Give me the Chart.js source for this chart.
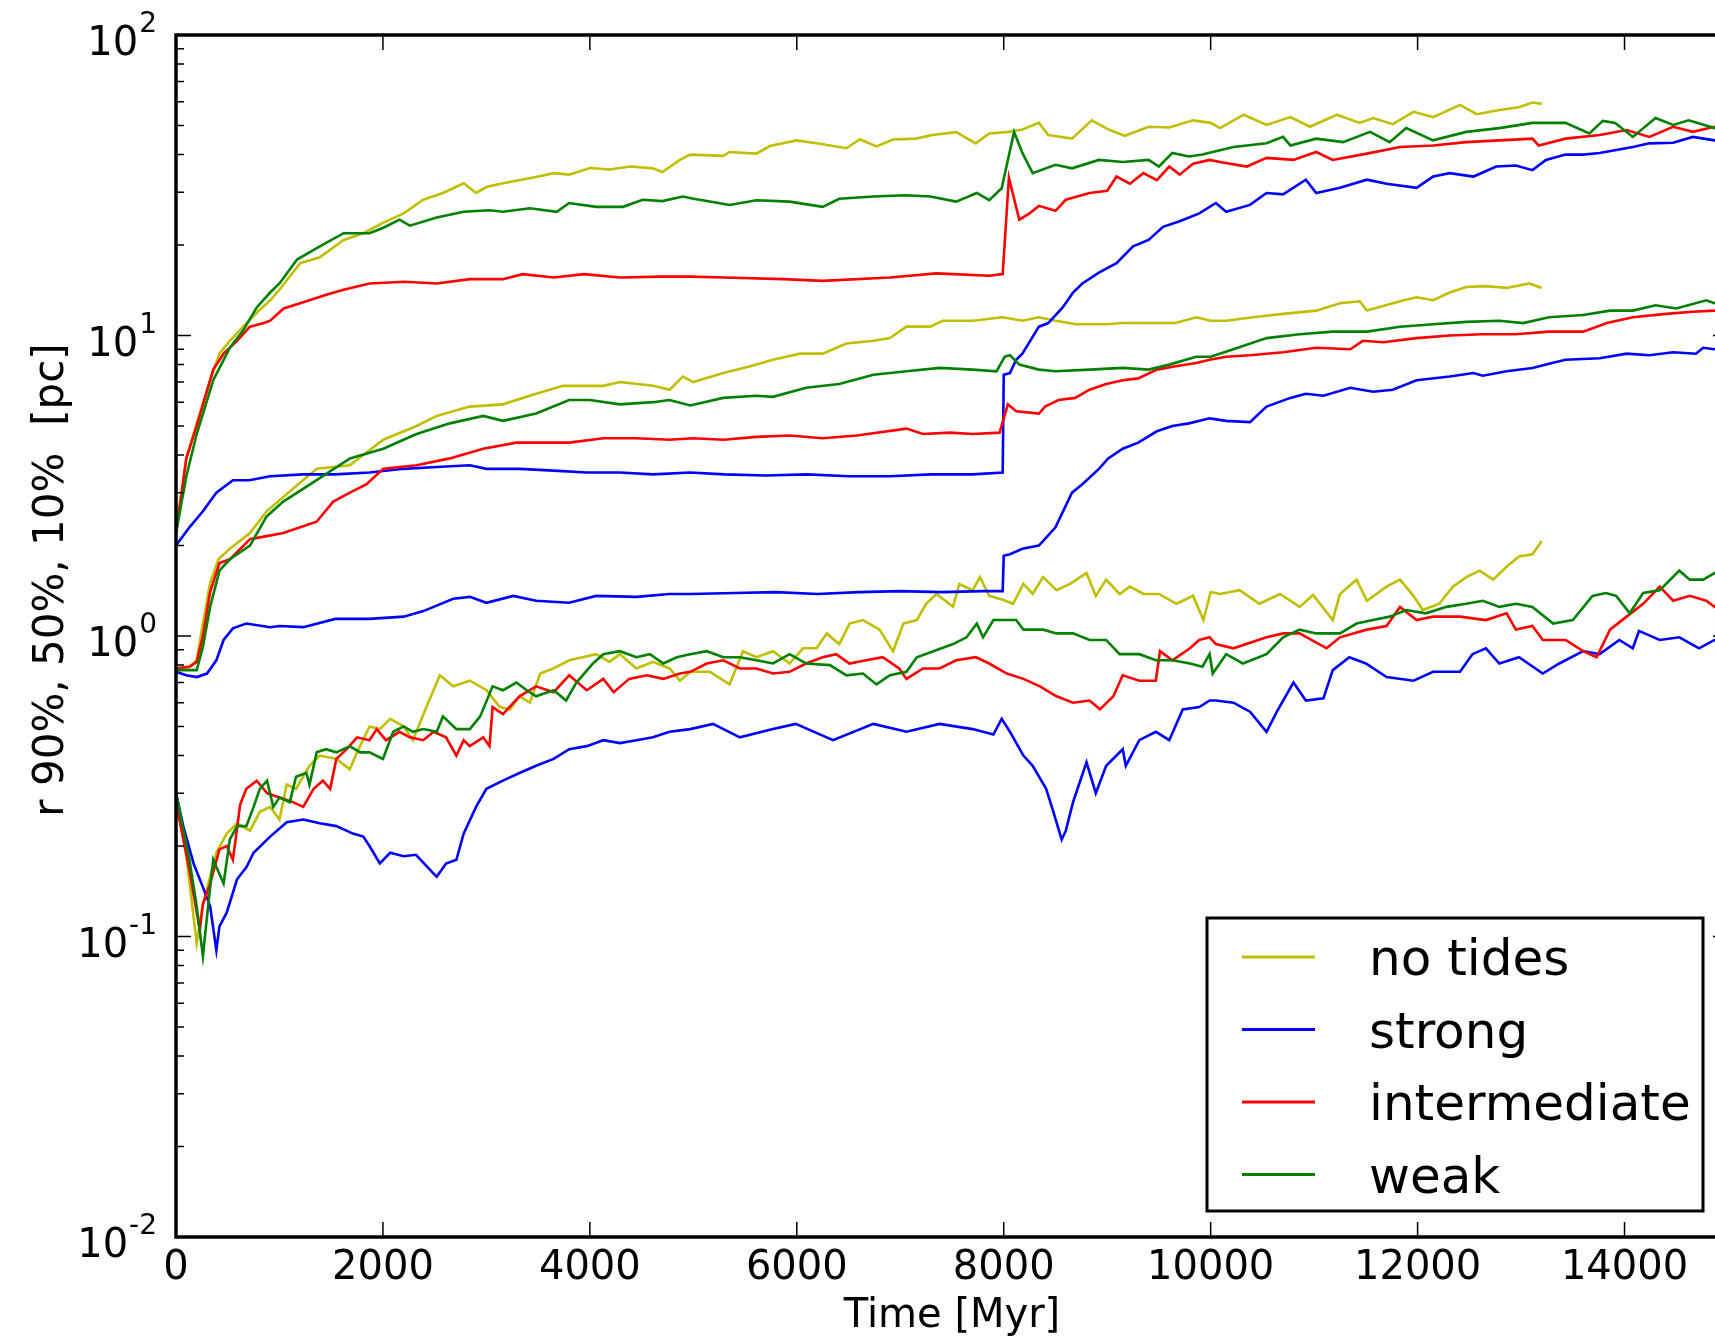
<!DOCTYPE html>
<html>
<head>
<meta charset="utf-8">
<script src="https://cdn.jsdelivr.net/npm/chart.js@4.4.1/dist/chart.umd.min.js"></script>
<style>
html, body { margin:0; padding:0; background:#fff; overflow:hidden; }
#wrap { position:relative; width:1760px; height:1341px; }
</style>
</head>
<body>
<div id="wrap"><canvas id="c" width="1760" height="1341"></canvas></div>
<script>
// [time Myr, radius pc]
const noTides90 = [[0,2.2],[100,3.9],[200,5.1],[330,7.1],[420,8.7],[520,9.6],[650,10.7],[780,11.9],[910,13.1],[1000,14.2],[1200,17.4],[1390,18.2],[1620,20.8],[1810,21.9],[2000,23.7],[2200,25.5],[2390,28.3],[2580,29.8],[2780,32.1],[2900,29.8],[3000,31.2],[3160,32.1],[3480,33.7],[3650,34.7],[3800,34.3],[4000,36.1],[4190,35.7],[4390,36.5],[4610,36],[4700,35],[4870,38.4],[4970,40],[5290,39.6],[5350,40.8],[5610,40.3],[5740,42.7],[5995,44.6],[6190,43.6],[6480,42],[6610,45],[6770,42.6],[6930,44.9],[7150,45.2],[7310,46.5],[7540,47.5],[7730,43.6],[7860,47],[8050,47.6],[8180,48.5],[8340,51],[8430,46.5],[8660,45.2],[8850,52],[9010,48.5],[9170,46.2],[9400,49.5],[9600,49.2],[9830,52],[10000,51],[10090,49],[10320,54.3],[10540,50.2],[10770,53.3],[10960,49.5],[11220,54.3],[11440,51],[11570,52.9],[11760,50.5],[11960,55.5],[12150,53.3],[12410,58.5],[12570,54.5],[12790,56.3],[12980,57.5],[13110,59.6],[13200,59]]
const noTides50 = [[0,0.78],[130,0.79],[200,0.83],[260,1.1],[330,1.5],[410,1.8],[520,1.95],[715,2.2],[876,2.6],[1037,2.9],[1359,3.6],[1681,3.7],[2003,4.5],[2325,5.0],[2520,5.4],[2840,5.8],[3160,5.9],[3480,6.4],[3740,6.8],[4130,6.8],[4290,7.0],[4610,6.8],[4770,6.6],[4900,7.3],[5000,7.0],[5290,7.5],[5550,7.9],[5770,8.3],[6030,8.7],[6250,8.7],[6480,9.4],[6740,9.6],[6900,9.8],[7060,10.7],[7290,10.7],[7410,11.2],[7700,11.2],[7990,11.5],[8180,11.2],[8340,11.5],[8500,11.2],[8700,10.9],[8990,10.9],[9150,11],[9400,11],[9660,11],[9860,11.5],[10000,11.2],[10150,11.2],[10410,11.5],[10700,11.8],[11020,12.1],[11250,12.8],[11440,13],[11510,12.1],[11830,13],[11990,13.4],[12150,13.1],[12310,13.9],[12470,14.5],[12660,14.6],[12860,14.4],[13080,14.9],[13200,14.4]]
const noTides10 = [[0,0.29],[100,0.185],[200,0.095],[260,0.128],[330,0.158],[390,0.19],[490,0.22],[590,0.238],[715,0.225],[810,0.26],[910,0.27],[1000,0.245],[1070,0.32],[1160,0.31],[1290,0.37],[1390,0.40],[1550,0.39],[1680,0.36],[1750,0.41],[1870,0.5],[1970,0.49],[2070,0.53],[2200,0.5],[2290,0.45],[2420,0.58],[2550,0.74],[2680,0.68],[2840,0.71],[3000,0.66],[3130,0.58],[3230,0.57],[3320,0.63],[3420,0.60],[3520,0.75],[3650,0.78],[3800,0.83],[3930,0.85],[4060,0.87],[4190,0.82],[4290,0.87],[4450,0.78],[4610,0.82],[4770,0.78],[4870,0.71],[4970,0.76],[5160,0.76],[5350,0.69],[5480,0.89],[5610,0.85],[5770,0.89],[5930,0.81],[6060,0.91],[6190,0.91],[6290,1.02],[6410,0.94],[6510,1.1],[6640,1.13],[6800,1.05],[6930,0.89],[7030,1.1],[7160,1.13],[7250,1.28],[7350,1.38],[7510,1.25],[7570,1.49],[7700,1.42],[7770,1.57],[7860,1.36],[7990,1.32],[8090,1.28],[8190,1.49],[8280,1.38],[8380,1.57],[8510,1.42],[8640,1.49],[8800,1.62],[8890,1.36],[8990,1.54],[9120,1.38],[9220,1.46],[9350,1.38],[9500,1.38],[9670,1.28],[9830,1.36],[9930,1.13],[10000,1.40],[10090,1.38],[10280,1.42],[10470,1.28],[10670,1.38],[10860,1.25],[10990,1.37],[11180,1.13],[11250,1.38],[11410,1.54],[11510,1.31],[11700,1.46],[11830,1.54],[11960,1.36],[12050,1.22],[12210,1.28],[12340,1.46],[12470,1.57],[12600,1.65],[12730,1.54],[12860,1.70],[12980,1.84],[13110,1.87],[13200,2.07]]

const strong90 = [[0,2.0],[130,2.3],[260,2.6],[390,3.0],[550,3.3],[710,3.3],[910,3.4],[1230,3.45],[1540,3.45],[1870,3.5],[2200,3.6],[2520,3.65],[2840,3.7],[3000,3.6],[3320,3.6],[3650,3.55],[3970,3.5],[4290,3.5],[4610,3.45],[4970,3.5],[5300,3.45],[5700,3.42],[6100,3.45],[6500,3.4],[6900,3.4],[7300,3.45],[7700,3.45],[7990,3.5],[8000,7.4],[8060,7.5],[8120,8.3],[8180,8.7],[8340,10.7],[8430,11],[8570,12.4],[8670,13.9],[8760,14.9],[8920,16.2],[9090,17.4],[9250,19.8],[9400,20.8],[9540,23],[9700,24],[9890,25.5],[10050,27.6],[10150,25.8],[10380,27.2],[10540,29.8],[10700,29.5],[10920,33],[11020,29.8],[11250,31],[11510,33],[11700,32],[11990,31],[12150,33.8],[12310,34.7],[12540,33.8],[12760,36.5],[12950,36.8],[13110,35.5],[13240,38.4],[13430,40],[13600,40],[13760,40.5],[13920,41.4],[14080,42.4],[14240,43.6],[14470,43.8],[14660,45.8],[14870,44.6],[15000,45]]
const strong50 = [[0,0.76],[100,0.74],[200,0.73],[300,0.75],[390,0.83],[460,0.97],[550,1.06],[680,1.1],[910,1.07],[1000,1.08],[1230,1.07],[1540,1.14],[1870,1.14],[2200,1.16],[2390,1.21],[2680,1.33],[2840,1.35],[3000,1.29],[3260,1.36],[3480,1.31],[3800,1.29],[4060,1.36],[4450,1.35],[4770,1.38],[4970,1.38],[5400,1.39],[5800,1.4],[6200,1.38],[6600,1.4],[7000,1.41],[7400,1.4],[7800,1.41],[7990,1.41],[8000,1.85],[8060,1.87],[8180,1.95],[8340,2.0],[8500,2.3],[8660,3.0],[8760,3.2],[8920,3.6],[9010,3.9],[9150,4.2],[9300,4.4],[9480,4.8],[9630,5.0],[9790,5.1],[9990,5.3],[10150,5.2],[10380,5.15],[10540,5.8],[10770,6.2],[10920,6.4],[11090,6.3],[11350,6.7],[11570,6.5],[11760,6.6],[11990,7.1],[12310,7.3],[12540,7.5],[12630,7.35],[12860,7.6],[13110,7.8],[13300,8.1],[13430,8.3],[13760,8.4],[14020,8.7],[14240,8.6],[14470,8.8],[14690,8.7],[14760,9.1],[14870,9.0],[15000,9.1]]
const strong10 = [[0,0.30],[70,0.233],[170,0.175],[260,0.146],[330,0.126],[390,0.09],[420,0.108],[490,0.12],[590,0.155],[680,0.17],[750,0.19],[910,0.215],[1070,0.24],[1230,0.245],[1390,0.238],[1550,0.233],[1710,0.22],[1810,0.215],[1870,0.2],[1970,0.175],[2070,0.19],[2200,0.185],[2320,0.187],[2490,0.162],[2520,0.158],[2610,0.175],[2710,0.18],[2780,0.22],[2900,0.27],[3000,0.31],[3160,0.33],[3320,0.35],[3480,0.37],[3650,0.39],[3800,0.42],[3970,0.43],[4130,0.45],[4290,0.44],[4450,0.45],[4610,0.46],[4770,0.48],[4970,0.49],[5190,0.51],[5450,0.46],[5770,0.49],[5990,0.51],[6350,0.45],[6740,0.51],[7060,0.48],[7380,0.51],[7700,0.49],[7900,0.47],[7980,0.53],[8060,0.48],[8190,0.40],[8280,0.37],[8410,0.31],[8480,0.26],[8560,0.21],[8600,0.225],[8670,0.28],[8800,0.38],[8890,0.30],[8990,0.37],[9150,0.42],[9180,0.37],[9310,0.45],[9470,0.48],[9600,0.45],[9730,0.57],[9890,0.58],[9990,0.61],[10050,0.61],[10220,0.60],[10380,0.56],[10540,0.48],[10640,0.56],[10800,0.70],[10920,0.61],[11090,0.62],[11180,0.77],[11340,0.85],[11500,0.81],[11700,0.73],[11960,0.71],[12150,0.76],[12410,0.76],[12530,0.87],[12660,0.91],[12790,0.81],[12980,0.85],[13210,0.75],[13370,0.81],[13600,0.89],[13760,0.87],[13950,0.97],[14080,0.91],[14140,1.04],[14340,0.97],[14530,0.99],[14720,0.91],[14870,0.97],[15000,0.97]]

const intermediate90 = [[0,2.2],[100,3.9],[200,5.0],[360,7.7],[460,8.7],[590,9.6],[715,10.7],[850,11.0],[910,11.2],[1040,12.3],[1230,12.9],[1460,13.7],[1620,14.2],[1870,14.9],[2200,15.1],[2520,14.9],[2840,15.4],[3160,15.4],[3350,16.0],[3650,15.6],[3940,16.0],[4290,15.6],[4680,15.7],[4970,15.7],[5300,15.6],[5870,15.4],[6250,15.2],[6900,15.6],[7350,16.1],[7860,15.8],[7990,16],[8050,33.5],[8150,24.3],[8250,25.5],[8340,27],[8500,26],[8600,28.3],[8830,29.8],[9000,30.3],[9090,33.8],[9220,32],[9350,34.7],[9480,32.9],[9600,36.5],[9700,34.3],[9830,37.3],[9990,38.4],[10090,37.8],[10350,36.5],[10540,39],[10800,38.4],[11020,40.8],[11180,38.4],[11510,40.3],[11830,42.4],[12150,42.9],[12470,44],[12790,44.6],[13110,45.2],[13170,42.9],[13430,45.2],[13760,46.5],[14020,48.3],[14240,45.8],[14470,49.5],[14660,47.6],[14870,49.5],[15000,50]]
const intermediate50 = [[0,0.78],[130,0.79],[200,0.82],[260,1.0],[330,1.4],[420,1.75],[522,1.8],[715,2.1],[876,2.15],[1037,2.2],[1359,2.4],[1520,2.8],[1681,3.0],[1842,3.2],[2003,3.6],[2325,3.7],[2647,3.9],[2969,4.2],[3290,4.4],[3580,4.4],[3800,4.4],[4130,4.55],[4450,4.55],[4770,4.5],[5000,4.55],[5290,4.5],[5610,4.6],[5930,4.65],[6250,4.55],[6580,4.65],[7060,4.9],[7220,4.7],[7480,4.75],[7700,4.7],[7960,4.75],[8000,5.3],[8040,5.9],[8120,5.6],[8340,5.5],[8400,5.8],[8530,6.1],[8690,6.2],[8830,6.6],[8990,6.9],[9150,7.1],[9300,7.2],[9480,7.7],[9660,7.9],[9860,8.1],[9990,8.3],[10150,8.5],[10380,8.6],[10700,8.8],[11020,9.1],[11350,9.0],[11470,9.6],[11670,9.5],[11990,9.8],[12310,10.0],[12630,10.1],[12950,10.1],[13270,10.3],[13600,10.3],[13830,11],[14080,11.5],[14400,11.8],[14660,12],[14870,12.1],[15000,12.2]]
const intermediate10 = [[0,0.28],[130,0.166],[230,0.105],[260,0.128],[330,0.15],[420,0.195],[490,0.2],[550,0.18],[620,0.275],[680,0.31],[780,0.33],[880,0.30],[1000,0.29],[1130,0.28],[1230,0.27],[1330,0.31],[1420,0.33],[1490,0.31],[1550,0.39],[1650,0.42],[1750,0.46],[1870,0.45],[1940,0.49],[2030,0.45],[2160,0.48],[2260,0.46],[2390,0.45],[2490,0.48],[2610,0.46],[2710,0.40],[2780,0.45],[2840,0.43],[2970,0.46],[3030,0.43],[3060,0.58],[3160,0.55],[3320,0.63],[3480,0.68],[3650,0.65],[3800,0.74],[3970,0.66],[4130,0.72],[4230,0.65],[4380,0.72],[4550,0.74],[4710,0.72],[4870,0.75],[4970,0.76],[5130,0.81],[5290,0.83],[5450,0.78],[5610,0.78],[5770,0.75],[5930,0.76],[6090,0.81],[6250,0.85],[6380,0.87],[6510,0.81],[6670,0.83],[6830,0.85],[6990,0.78],[7060,0.72],[7220,0.78],[7380,0.78],[7540,0.83],[7730,0.85],[7860,0.81],[8030,0.75],[8190,0.72],[8350,0.68],[8510,0.63],[8670,0.60],[8830,0.61],[8930,0.57],[9060,0.63],[9150,0.74],[9310,0.71],[9470,0.71],[9510,0.89],[9630,0.83],[9800,0.91],[9890,0.97],[9990,0.99],[10050,0.94],[10220,0.91],[10540,0.99],[10700,1.02],[10860,1.02],[11120,0.91],[11250,0.99],[11510,1.05],[11700,1.08],[11830,1.25],[11990,1.13],[12150,1.16],[12410,1.16],[12660,1.13],[12860,1.19],[12950,1.05],[13110,1.08],[13210,0.97],[13430,0.97],[13600,0.89],[13730,0.85],[13860,1.05],[14020,1.16],[14180,1.28],[14340,1.46],[14470,1.31],[14630,1.36],[14790,1.31],[14870,1.25],[15000,1.28]]

const weak90 = [[0,2.2],[100,3.4],[200,4.7],[360,7.1],[520,9.1],[650,10.4],[780,12.4],[910,13.9],[1000,14.9],[1170,17.9],[1390,19.8],[1620,21.9],[1870,21.9],[2000,22.8],[2160,24.3],[2260,23.2],[2520,24.7],[2780,25.8],[3030,26.1],[3160,25.8],[3420,26.5],[3680,25.8],[3800,27.6],[4060,26.8],[4320,26.8],[4510,28.3],[4700,28],[4900,29],[5000,28.5],[5090,28.2],[5350,27.2],[5610,28.2],[5930,27.9],[6250,26.8],[6410,28.5],[6740,29],[7050,29.3],[7290,29],[7540,27.9],[7740,29.8],[7860,28.2],[7980,30.9],[8100,47.6],[8180,40.5],[8280,34.7],[8500,37],[8660,36],[8920,38.4],[9150,37.8],[9400,38.4],[9500,36.5],[9630,40.5],[9790,39.4],[9920,40],[10050,41],[10220,42.4],[10540,43.6],[10700,45.8],[10770,42.9],[11020,45.2],[11280,44],[11540,47.6],[11730,44],[11890,49],[12150,44.6],[12470,47.6],[12790,49],[13110,51],[13430,51],[13660,47],[13790,51.8],[13910,51],[14080,45.8],[14300,52.9],[14470,50.2],[14620,52],[14870,49],[15000,49.5]]
const weak50 = [[0,0.77],[200,0.77],[260,0.92],[330,1.25],[420,1.65],[520,1.8],[715,2.0],[876,2.5],[1037,2.8],[1359,3.3],[1681,3.9],[2003,4.2],[2325,4.7],[2647,5.1],[2969,5.4],[3160,5.2],[3480,5.5],[3800,6.1],[4000,6.1],[4290,5.9],[4610,6.0],[4770,6.1],[4970,5.85],[5290,6.2],[5610,6.3],[5770,6.25],[6090,6.7],[6410,6.9],[6740,7.4],[7060,7.6],[7380,7.8],[7700,7.7],[7930,7.6],[8010,8.5],[8060,8.6],[8150,8.0],[8340,7.7],[8500,7.6],[8830,7.7],[9150,7.8],[9400,7.7],[9600,8.0],[9860,8.5],[10000,8.5],[10220,9.0],[10540,9.8],[10860,10.1],[11180,10.3],[11510,10.3],[11830,10.7],[12150,10.9],[12470,11.1],[12790,11.2],[13020,11],[13270,11.5],[13600,11.7],[13860,12.1],[14080,12.1],[14300,12.6],[14500,12.3],[14790,13.1],[14870,12.8],[15000,13]]
const weak10 = [[0,0.30],[130,0.18],[200,0.126],[260,0.086],[310,0.126],[360,0.18],[460,0.15],[520,0.21],[590,0.233],[680,0.233],[750,0.27],[810,0.31],[880,0.33],[940,0.27],[1000,0.29],[1100,0.28],[1160,0.34],[1260,0.35],[1290,0.32],[1360,0.41],[1450,0.42],[1550,0.41],[1680,0.43],[1780,0.41],[1870,0.41],[2000,0.39],[2100,0.48],[2200,0.50],[2290,0.48],[2390,0.49],[2520,0.48],[2580,0.54],[2710,0.49],[2840,0.49],[2940,0.54],[3060,0.68],[3160,0.66],[3290,0.70],[3390,0.66],[3480,0.63],[3650,0.66],[3770,0.61],[3870,0.70],[4030,0.81],[4130,0.87],[4290,0.89],[4450,0.85],[4580,0.87],[4710,0.81],[4840,0.85],[4970,0.87],[5130,0.89],[5290,0.85],[5450,0.85],[5610,0.83],[5770,0.81],[5930,0.87],[6090,0.81],[6320,0.80],[6480,0.74],[6640,0.75],[6770,0.69],[6900,0.74],[7060,0.76],[7160,0.85],[7320,0.89],[7510,0.94],[7640,0.99],[7740,1.10],[7800,0.99],[7900,1.13],[8030,1.13],[8120,1.13],[8190,1.05],[8380,1.05],[8510,1.02],[8670,1.02],[8830,0.97],[8990,0.97],[9120,0.87],[9310,0.87],[9470,0.83],[9630,0.83],[9800,0.81],[9920,0.79],[9990,0.87],[10020,0.75],[10150,0.87],[10310,0.81],[10540,0.87],[10700,0.99],[10860,1.05],[11020,1.02],[11250,1.02],[11410,1.10],[11570,1.13],[11730,1.16],[11890,1.22],[12080,1.19],[12280,1.25],[12470,1.28],[12630,1.31],[12790,1.25],[12950,1.28],[13110,1.25],[13310,1.10],[13500,1.13],[13690,1.36],[13820,1.39],[13920,1.36],[14050,1.19],[14180,1.39],[14340,1.42],[14530,1.65],[14630,1.54],[14760,1.54],[14870,1.62],[15000,1.6]]

const xTicks = [0,2000,4000,6000,8000,10000,12000,14000]
const yTicks = [0.01,0.1,1,10,100]
const yTickExp = ['-2','-1','0','1','2']

const models = [
	{label:'no tides', color:'#bfbf00', runs:[noTides90, noTides50, noTides10]},
	{label:'strong', color:'#0000ff', runs:[strong90, strong50, strong10]},
	{label:'intermediate', color:'#ff0000', runs:[intermediate90, intermediate50, intermediate10]},
	{label:'weak', color:'#008000', runs:[weak90, weak50, weak10]},
]

const FONT = '"DejaVu Sans", "Liberation Sans", sans-serif'
Chart.defaults.font.family = FONT
Chart.defaults.color = '#000'

const datasets = []
models.forEach((m, i) => m.runs.forEach(r => datasets.push({
	label: m.label,
	data: r.map(p => ({x:p[0], y:p[1]})),
	borderColor: m.color,
	borderWidth: 2.6,
	pointRadius: 0,
	tension: 0,
	fill: false,
	order: models.length - i,
})))

// matplotlib style frame: inward ticks, 10^n labels, y title, legend box
const frame = {
	id: 'frame',
	afterDraw: c => {
		const {ctx, chartArea:a, scales:{x, y}} = c
		ctx.save()
		ctx.strokeStyle = '#000'
		ctx.lineWidth = 1.5
		ctx.beginPath()
		xTicks.forEach(v => {
			const px = x.getPixelForValue(v)
			ctx.moveTo(px, a.bottom); ctx.lineTo(px, a.bottom - 15)
			ctx.moveTo(px, a.top); ctx.lineTo(px, a.top + 15)
		})
		yTicks.forEach((v, i) => {
			const py = y.getPixelForValue(v)
			ctx.moveTo(a.left, py); ctx.lineTo(a.left + 15, py)
			ctx.moveTo(a.right, py); ctx.lineTo(a.right - 15, py)
			if (i < yTicks.length - 1) for (let k = 2; k < 10; k++) {
				const pm = y.getPixelForValue(v * k)
				ctx.moveTo(a.left, pm); ctx.lineTo(a.left + 8, pm)
				ctx.moveTo(a.right, pm); ctx.lineTo(a.right - 8, pm)
			}
		})
		ctx.stroke()
		ctx.lineWidth = 3.5
		ctx.strokeRect(a.left, a.top, a.right - a.left, a.bottom - a.top)

		ctx.fillStyle = '#000'
		ctx.textBaseline = 'alphabetic'
		ctx.textAlign = 'right'
		yTicks.forEach((v, i) => {
			const py = y.getPixelForValue(v)
			ctx.font = '28px ' + FONT
			const w = ctx.measureText(yTickExp[i]).width
			ctx.fillText(yTickExp[i], a.left - 19, py - 3)
			ctx.font = '40px ' + FONT
			ctx.fillText('10', a.left - 19 - w - 1, py + 20)
		})

		ctx.save()
		ctx.translate(63, 580)
		ctx.rotate(-Math.PI / 2)
		ctx.textAlign = 'center'
		ctx.font = '42px ' + FONT
		ctx.fillText('r 90%, 50%, 10%  [pc]', 0, 0)
		ctx.restore()

		// legend
		const L = a.right - 25 - 496, T = a.bottom - 26 - 293
		ctx.fillStyle = '#fff'
		ctx.fillRect(L, T, 496, 293)
		ctx.lineWidth = 3
		ctx.strokeStyle = '#000'
		ctx.strokeRect(L, T, 496, 293)
		ctx.textAlign = 'left'
		ctx.font = '50px ' + FONT
		models.forEach((m, i) => {
			const ly = T + 39 + i * 72.5
			ctx.strokeStyle = m.color
			ctx.beginPath(); ctx.moveTo(L + 35, ly); ctx.lineTo(L + 108, ly); ctx.stroke()
			ctx.fillStyle = '#000'
			ctx.fillText(m.label, L + 162, ly + 18)
		})
		ctx.restore()
	}
}

new Chart(document.getElementById('c'), {
	type: 'line',
	data: { datasets },
	options: {
		responsive: false,
		animation: false,
		devicePixelRatio: 1,
		layout: { padding: { top:35, right:32, left:0, bottom:0 } },
		plugins: { legend:{ display:false }, tooltip:{ enabled:false } },
		scales: {
			x: {
				type: 'linear', min: 0, max: 15000,
				grid: { display:false, drawTicks:false },
				border: { display:false },
				afterBuildTicks: s => { s.ticks = xTicks.map(v => ({value:v})) },
				afterFit: s => { s.height = 104 },
				ticks: { color:'#000', font:{ size:40 }, padding:8, maxRotation:0, autoSkip:false, callback: v => String(v) },
				title: { display:true, text:'Time [Myr]', color:'#000', font:{ size:40 }, padding:{ top:0, bottom:0 } },
			},
			y: {
				type: 'logarithmic', min: 0.01, max: 100,
				grid: { display:false, drawTicks:false },
				border: { display:false },
				ticks: { display:false },
				afterFit: s => { s.width = 176 },
			}
		}
	},
	plugins: [frame]
})
</script>
</body>
</html>
